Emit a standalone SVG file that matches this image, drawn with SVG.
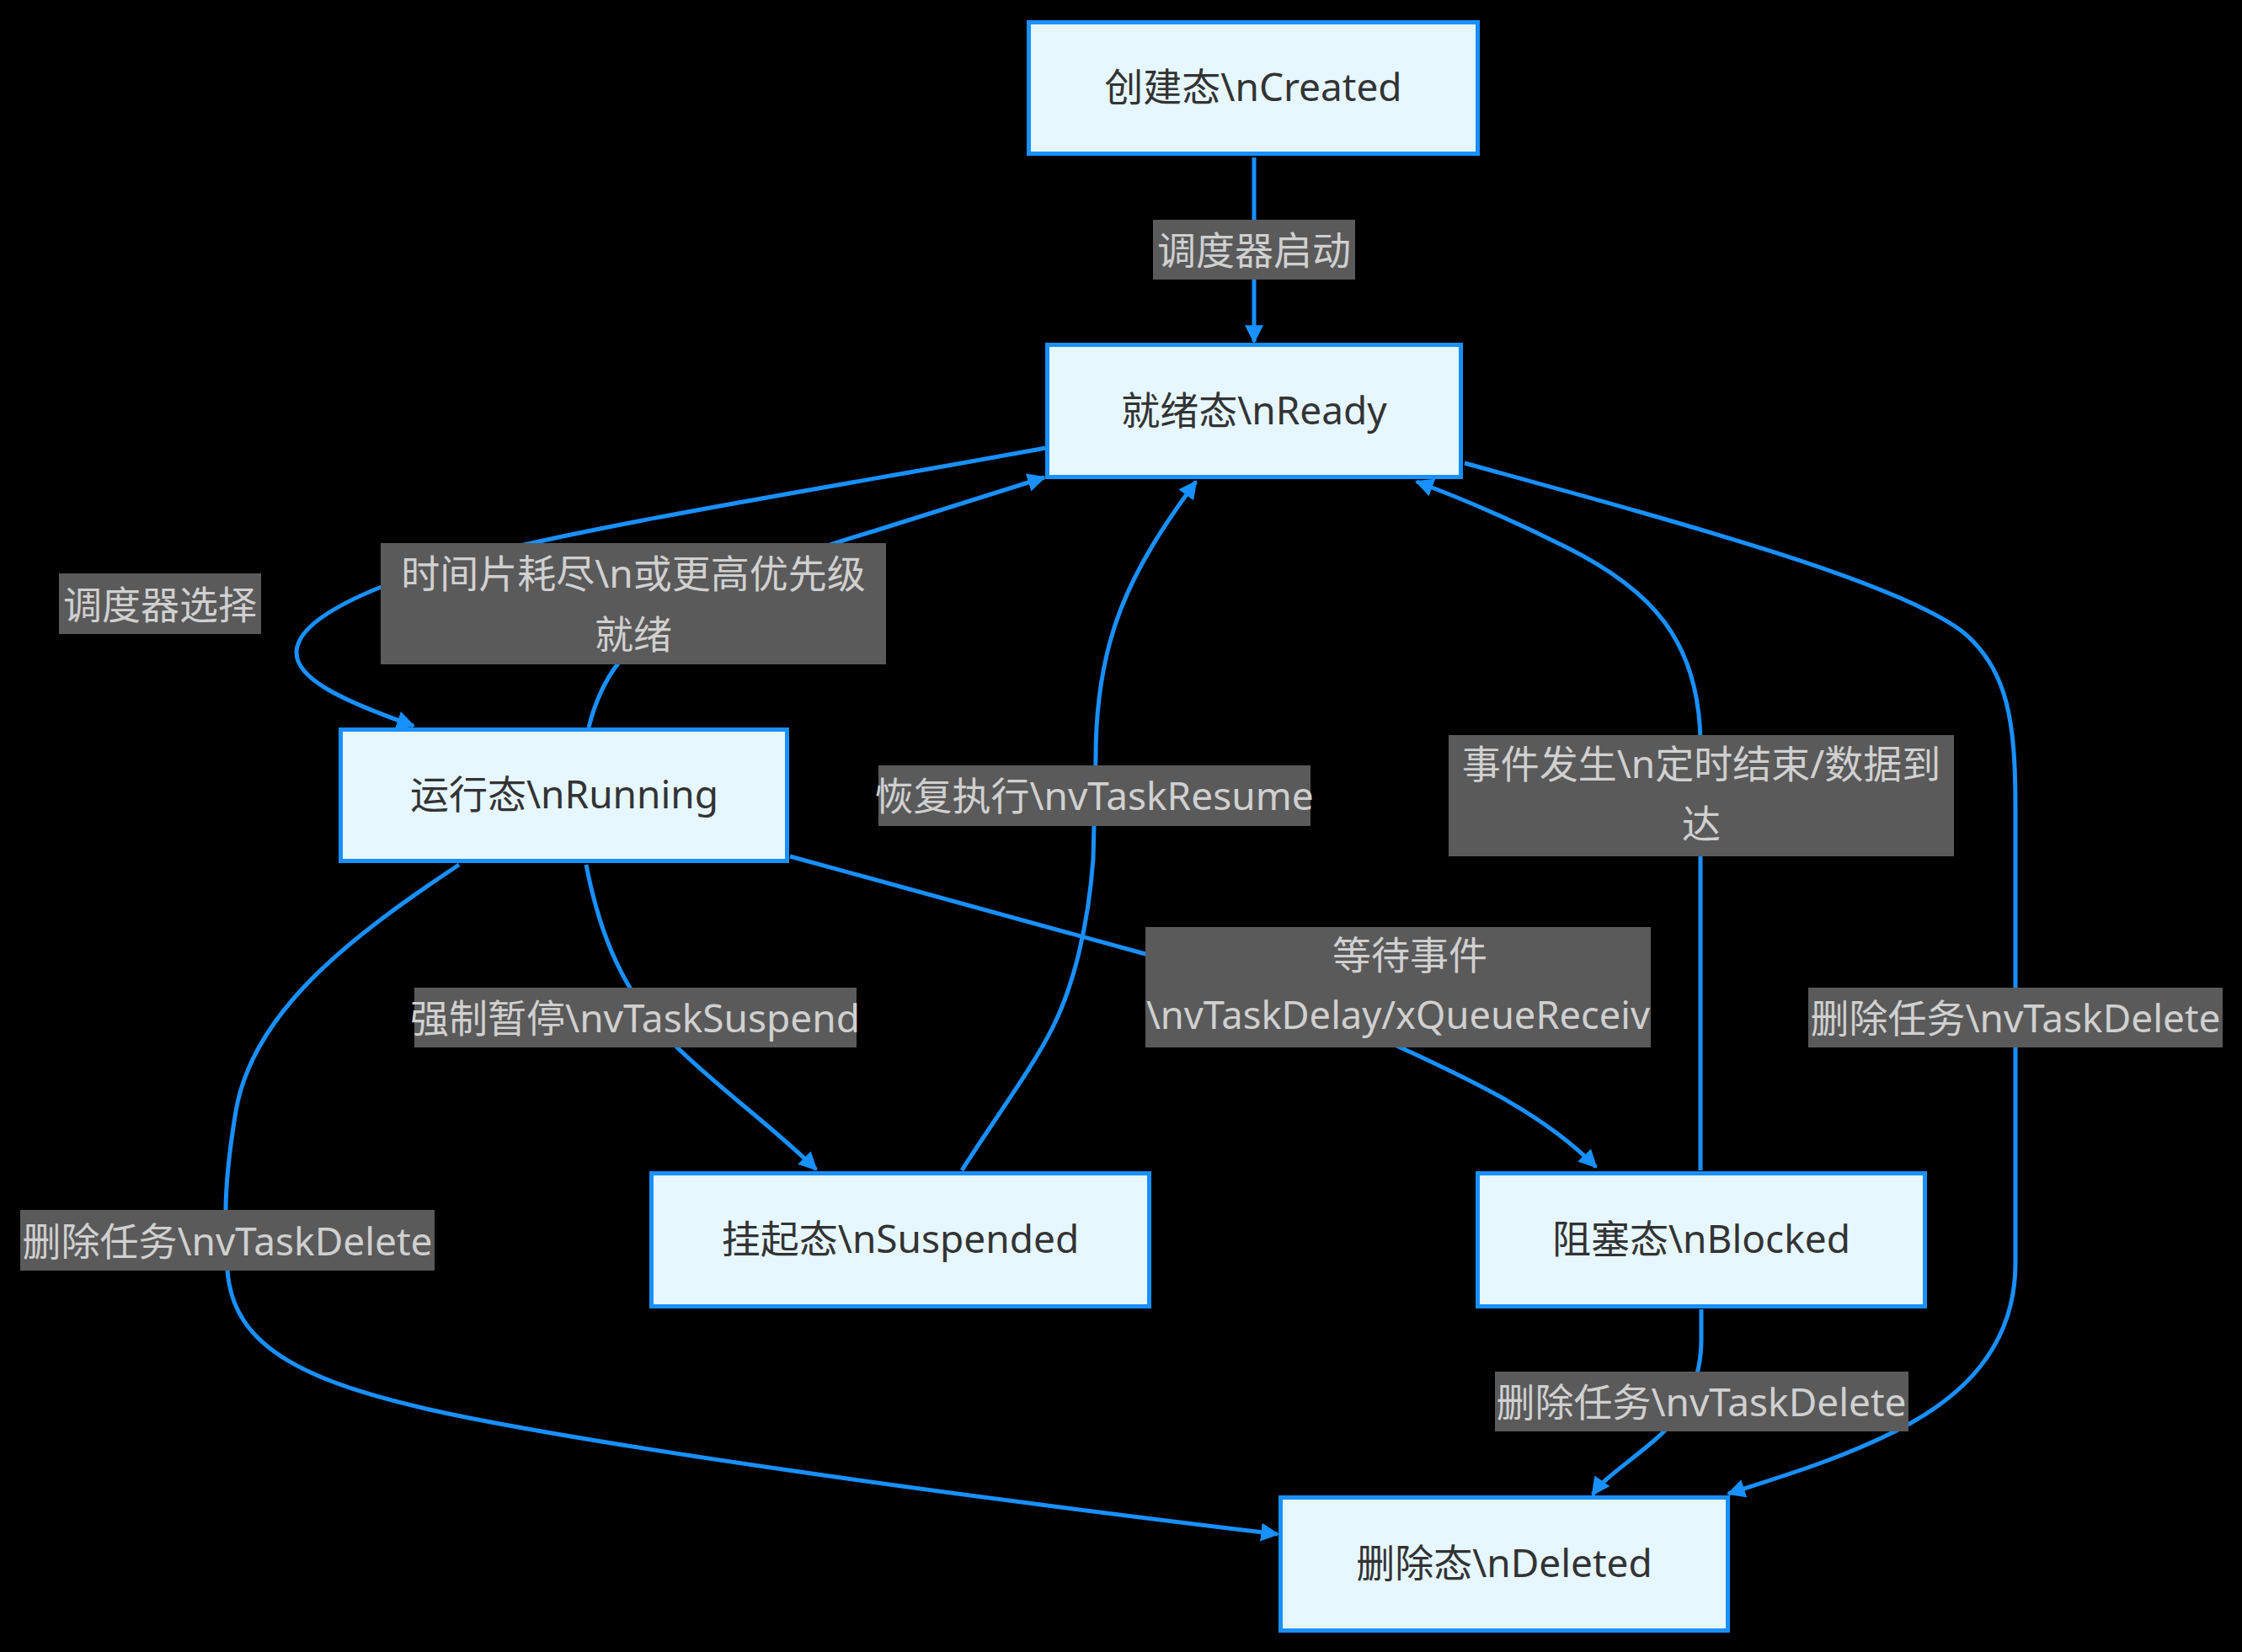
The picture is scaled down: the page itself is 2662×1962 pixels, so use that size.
<svg xmlns="http://www.w3.org/2000/svg" width="2662" height="1962" viewBox="0 0 2662 1962">
<style>
.node rect{fill:#e6f7ff;stroke:#1890ff;stroke-width:5}
.node text{fill:#333333;font-family:"Noto Sans","Noto Sans CJK SC",sans-serif;font-size:46px;text-anchor:middle;dominant-baseline:central}
.edge{fill:none;stroke:#1890ff;stroke-width:5}
.lbl rect{fill:#5a5a5a}
.lbl text{fill:#d0d0d0;font-family:"Noto Sans","Noto Sans CJK SC",sans-serif;font-size:46px;text-anchor:middle;dominant-baseline:central}
</style>
<defs>
<marker id="arr" viewBox="0 0 10 10" refX="9" refY="5" markerUnits="userSpaceOnUse" markerWidth="22" markerHeight="22" orient="auto">
<path d="M0,0 L10,5 L0,10 z" fill="#1890ff"/>
</marker>
</defs>
<rect x="0" y="0" width="2662" height="1962" fill="#000000"/>
<g id="connectors">
<path class="edge" marker-end="url(#arr)" d="M1489,187 L1489,406"/>
<path class="edge" marker-end="url(#arr)" d="M1241,532 C1050,568 720,620 560,662 C440,695 352,735 352,775 C352,805 400,830 491,862"/>
<path class="edge" marker-end="url(#arr)" d="M699,864 C712,812 735,775 790,735 C860,688 950,657 1040,630 L1240,567"/>
<path class="edge" marker-end="url(#arr)" d="M1142,1390 C1180,1330 1225,1270 1250,1220 C1275,1170 1292,1100 1298,1020 L1301,900 C1301,760 1340,680 1420,572"/>
<path class="edge" marker-end="url(#arr)" d="M2019,1390 L2019,880 C2017,760 1960,700 1860,650 C1790,615 1730,590 1682,572"/>
<path class="edge" marker-end="url(#arr)" d="M1739,550 C2000,622 2250,690 2330,750 C2385,795 2393,860 2393,960 L2393,1500 C2393,1600 2330,1660 2250,1700 C2180,1735 2110,1755 2052,1774"/>
<path class="edge" marker-end="url(#arr)" d="M696,1027 C712,1110 740,1180 800,1240 C850,1290 920,1340 969,1389"/>
<path class="edge" marker-end="url(#arr)" d="M938,1017 L1360,1133 C1500,1175 1600,1215 1665,1245 C1740,1280 1830,1320 1895,1386"/>
<path class="edge" marker-end="url(#arr)" d="M545,1027 C420,1110 300,1200 280,1320 C270,1380 268,1420 268,1440 L270,1508 C276,1600 360,1645 557,1684 C750,1722 1100,1772 1517,1822"/>
<path class="edge" marker-end="url(#arr)" d="M2020,1555 L2020,1590 C2020,1640 2000,1680 1965,1710 C1930,1740 1905,1755 1891,1775"/>
</g>
<g id="edge-labels">
<g class="lbl"><rect x="1369" y="261" width="240" height="71"/><text x="1489" y="296">调度器启动</text></g>
<g class="lbl"><rect x="70" y="681" width="240" height="72"/><text x="190" y="717">调度器选择</text></g>
<g class="lbl"><rect x="452" y="645" width="600" height="144"/><text x="752" y="680">时间片耗尽\n或更高优先级</text><text x="752" y="752">就绪</text></g>
<g class="lbl"><rect x="1043" y="909" width="513" height="72"/><text x="1299" y="944">恢复执行\nvTaskResume</text></g>
<g class="lbl"><rect x="1360" y="1101" width="600" height="143"/><text x="1674" y="1133">等待事件</text><text x="1660" y="1204" textLength="598" lengthAdjust="spacingAndGlyphs">\nvTaskDelay/xQueueReceiv</text></g>
<g class="lbl"><rect x="1720" y="873" width="600" height="144"/><text x="2020" y="906">事件发生\n定时结束/数据到</text><text x="2020" y="977">达</text></g>
<g class="lbl"><rect x="2147" y="1173" width="492" height="71"/><text x="2393" y="1208">删除任务\nvTaskDelete</text></g>
<g class="lbl"><rect x="492" y="1173" width="525" height="71"/><text x="754" y="1208">强制暂停\nvTaskSuspend</text></g>
<g class="lbl"><rect x="24" y="1437" width="492" height="72"/><text x="270" y="1473">删除任务\nvTaskDelete</text></g>
<g class="lbl"><rect x="1775" y="1629" width="491" height="71"/><text x="2020" y="1664">删除任务\nvTaskDelete</text></g>
</g>
<g id="created" class="node"><rect x="1221.5" y="26.5" width="533" height="156"/><text x="1488" y="102">创建态\nCreated</text></g>
<g id="ready" class="node"><rect x="1243.5" y="409.5" width="491" height="157"/><text x="1489" y="486">就绪态\nReady</text></g>
<g id="running" class="node"><rect x="404.5" y="866.5" width="530" height="156"/><text x="670" y="942">运行态\nRunning</text></g>
<g id="suspended" class="node"><rect x="773.5" y="1393.5" width="591" height="158"/><text x="1069" y="1470">挂起态\nSuspended</text></g>
<g id="blocked" class="node"><rect x="1754.5" y="1393.5" width="531" height="158"/><text x="2020" y="1470">阻塞态\nBlocked</text></g>
<g id="deleted" class="node"><rect x="1520.5" y="1778.5" width="531" height="158"/><text x="1786" y="1855">删除态\nDeleted</text></g>
</svg>
